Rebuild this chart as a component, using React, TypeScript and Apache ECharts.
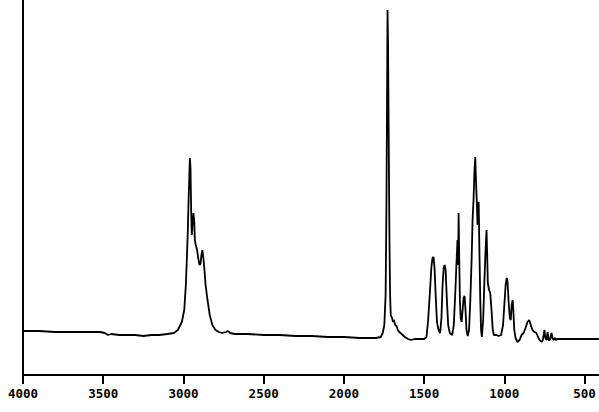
import React, { useEffect, useRef } from "react";
import * as echarts from "echarts";

// Wavenumbers (cm^-1)
const wavenumbers: number[] = [
  4000, 3900, 3800, 3700, 3600, 3520, 3490, 3470, 3450, 3400, 3300, 3250, 3200, 3150, 3100, 3060,
  3035, 3010, 2995, 2985, 2979, 2973, 2968, 2963, 2960, 2956, 2952, 2948, 2944, 2938, 2933, 2929,
  2923, 2915, 2908, 2900, 2894, 2888, 2882, 2876, 2870, 2862, 2850, 2836, 2820, 2800, 2780, 2760,
  2735, 2722, 2710, 2680, 2600, 2500, 2400, 2300, 2200, 2100, 2000, 1900, 1800, 1770, 1758, 1748,
  1740, 1735, 1731, 1728, 1725, 1721, 1716, 1712, 1708, 1700, 1694, 1688, 1680, 1672, 1664, 1655,
  1640, 1620, 1600, 1580, 1560, 1530, 1500, 1485, 1475, 1465, 1455, 1448, 1441, 1435, 1428, 1420,
  1410, 1400, 1392, 1385, 1378, 1372, 1366, 1358, 1350, 1340, 1325, 1315, 1305, 1298, 1292, 1288,
  1285, 1281, 1277, 1272, 1266, 1260, 1254, 1248, 1242, 1236, 1228, 1220, 1212, 1204, 1198, 1192,
  1186, 1181, 1177, 1172, 1167, 1164, 1160, 1156, 1150, 1145, 1140, 1132, 1124, 1117, 1111, 1107,
  1103, 1095, 1088, 1080, 1072, 1065, 1050, 1035, 1020, 1008, 1000, 992, 985, 980, 974, 966,
  960, 954, 948, 944, 938, 930, 918, 905, 893, 880, 868, 856, 845, 835, 825, 812,
  800, 790, 780, 768, 760, 750, 744, 737, 730, 724, 716, 706, 700, 692, 685, 678,
  670, 660, 650, 500, 410,
];

// Recorder pen height (arbitrary absorbance units, 0 = axis line)
const absorbance: number[] = [
  44, 44, 43, 43, 43, 43, 42, 40, 41, 40, 40, 39, 40, 40, 41, 42,
  45, 53, 65, 90, 115, 143, 175, 200, 217, 207, 165, 140, 150, 162, 155, 135,
  130, 125, 117, 110, 111, 120, 125, 117, 107, 90, 75, 60, 50, 45, 43, 42,
  43, 44, 42, 41, 41, 40, 40, 39, 39, 38, 38, 37, 37, 38, 42, 50,
  80, 165, 275, 365, 335, 245, 135, 80, 60, 57, 53, 55, 50, 49, 45, 43,
  41, 38, 36, 35, 36, 36, 36, 38, 55, 80, 107, 117, 118, 107, 80, 53,
  45, 42, 57, 90, 107, 110, 105, 75, 50, 42, 40, 50, 85, 113, 135, 110,
  162, 115, 75, 57, 53, 65, 77, 79, 65, 45, 39, 45, 75, 115, 155, 175,
  205, 218, 195, 175, 150, 170, 173, 130, 75, 45, 38, 55, 95, 125, 145, 120,
  92, 85, 82, 65, 45, 40, 40, 39, 40, 50, 70, 90, 97, 93, 75, 57,
  55, 70, 75, 65, 45, 37, 33, 35, 40, 42, 47, 53, 55, 50, 45, 43,
  42, 38, 35, 33, 35, 45, 37, 35, 43, 35, 35, 42, 37, 35, 37, 35,
  36, 36, 36, 36, 36,
];

// X axis tick values (cm^-1)
const tickValues: number[] = [4000, 3500, 3000, 2500, 2000, 1500, 1000, 500];

export default function App() {
  const ref = useRef<HTMLDivElement>(null);

  useEffect(() => {
    if (!ref.current) return;
    const chart = echarts.init(ref.current, undefined, { renderer: "svg" });
    const data = wavenumbers.map((w, i) => [w, absorbance[i]]);
    chart.setOption({
      animation: false,
      backgroundColor: "#ffffff",
      grid: { left: 23, right: 0, top: 0, bottom: 37, containLabel: false },
      xAxis: {
        type: "value",
        min: 410,
        max: 4000,
        inverse: true,
        axisLine: { show: true, onZero: false, lineStyle: { color: "#000", width: 2 } },
        axisTick: {
          show: true,
          inside: false,
          length: 9,
          lineStyle: { color: "#000", width: 2 },
          customValues: tickValues,
        },
        axisLabel: {
          show: true,
          customValues: tickValues,
          formatter: (v: number) => String(v),
          color: "#000",
          fontFamily: "DejaVu Sans Mono",
          fontWeight: "bold",
          fontSize: 12.5,
          margin: 12,
          showMinLabel: true,
          showMaxLabel: true,
        },
        splitLine: { show: false },
      },
      yAxis: {
        type: "value",
        min: 0,
        max: 375,
        axisLine: { show: true, lineStyle: { color: "#000", width: 2 } },
        axisTick: { show: false },
        axisLabel: { show: false },
        splitLine: { show: false },
      },
      series: [
        {
          type: "line",
          data,
          showSymbol: false,
          symbol: "none",
          lineStyle: { color: "#000", width: 1.8 },
          silent: true,
        },
      ],
    });
    return () => chart.dispose();
  }, []);

  return (
    <div
      ref={ref}
      style={{ position: "fixed", left: 0, top: 0, width: 599, height: 412, background: "#fff" }}
    />
  );
}
